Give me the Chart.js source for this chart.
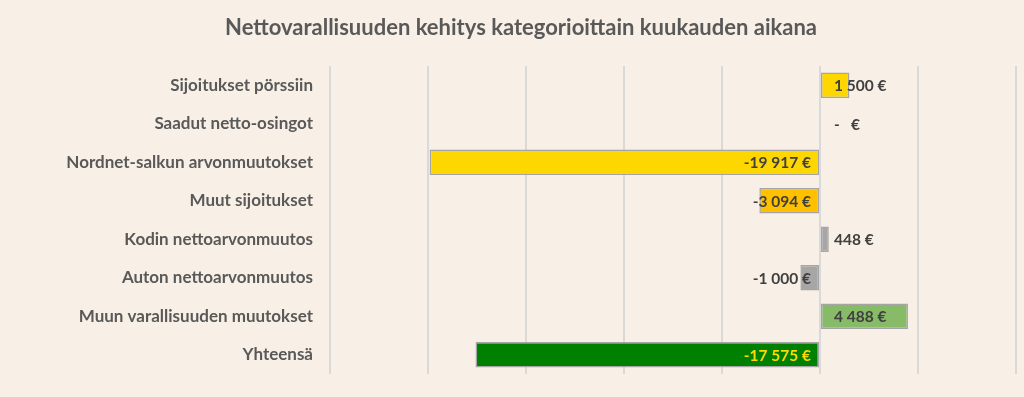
<!DOCTYPE html>
<html>
<head>
<meta charset="utf-8">
<script src="https://cdn.jsdelivr.net/npm/chart.js@4/dist/chart.umd.min.js"></script>
<style>
  html, body { margin: 0; padding: 0; background: #f8f0e6; }
  #wrap { width: 1024px; height: 397px; position: relative; }
</style>
</head>
<body>
<div id="wrap"><canvas id="chart"></canvas></div>
<script>
// --- data -------------------------------------------------
const categories = [
  'Sijoitukset pörssiin',
  'Saadut netto-osingot',
  'Nordnet-salkun arvonmuutokset',
  'Muut sijoitukset',
  'Kodin nettoarvonmuutos',
  'Auton nettoarvonmuutos',
  'Muun varallisuuden muutokset',
  'Yhteensä'
];
const values = [1500, 0, -19917, -3094, 448, -1000, 4488, -17575];
const barColors = ['#ffd700', '#ffd700', '#ffd700', '#ffc000', '#a6a6a6', '#a6a6a6', '#87bb67', '#008000'];
const labelColors = ['#404040', '#404040', '#404040', '#404040', '#404040', '#404040', '#404040', '#ffd700'];
const xMin = -25000;
const xMax = 10000;
const xStep = 5000;

const FONT = 'Lato, "Open Sans", sans-serif';

function fmtEuro(v) {
  if (v === 0) return '-   €';
  const s = Math.abs(v).toString().replace(/\B(?=(\d{3})+(?!\d))/g, ' ');
  return (v < 0 ? '-' : '') + s + ' €';
}

// value labels next to the zero line (Excel "inside base" look)
const valueLabels = {
  id: 'valueLabels',
  afterDatasetsDraw(chart) {
    const ctx = chart.ctx;
    const meta = chart.getDatasetMeta(0);
    const x0 = chart.scales.x.getPixelForValue(0);
    ctx.save();
    ctx.font = 'bold 15.5px ' + FONT;
    ctx.textBaseline = 'middle';
    meta.data.forEach((bar, i) => {
      const v = values[i];
      ctx.fillStyle = labelColors[i];
      if (v < 0) {
        ctx.textAlign = 'right';
        ctx.fillText(fmtEuro(v), x0 - 9, bar.y + 1);
      } else {
        ctx.textAlign = 'left';
        ctx.fillText(fmtEuro(v), x0 + 14, bar.y + 1);
      }
    });
    ctx.restore();
  }
};

// title drawn by hand so it can sit slightly right of centre, like the original
const titleText = {
  id: 'titleText',
  afterDraw(chart) {
    const ctx = chart.ctx;
    ctx.save();
    ctx.font = 'bold 22px ' + FONT;
    ctx.fillStyle = '#595959';
    ctx.textAlign = 'center';
    ctx.textBaseline = 'middle';
    ctx.fillText('Nettovarallisuuden kehitys kategorioittain kuukauden aikana', 521, 28);
    ctx.restore();
  }
};

new Chart(document.getElementById('chart'), {
  type: 'bar',
  data: {
    labels: categories,
    datasets: [{
      data: values,
      backgroundColor: barColors,
      borderColor: '#a5a5a5',
      borderWidth: 1.5,
      borderSkipped: false,
      categoryPercentage: 1,
      barPercentage: 0.66,
    }],
  },
  options: {
    indexAxis: 'y',
    responsive: true,
    maintainAspectRatio: false,
    animation: false,
    layout: { padding: { left: 0, right: 8, top: 66, bottom: 23 } },
    plugins: {
      legend: { display: false },
      tooltip: { enabled: false },
      title: { display: false },
    },
    scales: {
      x: {
        min: xMin,
        max: xMax,
        afterFit: scale => { scale.height = 0; },
        ticks: { display: false, stepSize: xStep },
        grid: { color: '#d9d9d9', lineWidth: 2, drawTicks: false },
        border: { display: false },
      },
      y: {
        // fixed label column; drop the label overflow padding so the plot spans 66..374
        afterFit: scale => {
          scale.width = 330;
          scale.paddingTop = 0;
          scale.paddingBottom = 0;
        },
        ticks: {
          color: '#595959',
          padding: 17,
          font: { family: FONT, size: 17, weight: 'bold' },
        },
        grid: { display: false, drawTicks: false },
        border: { display: false },
      },
    },
  },
  plugins: [valueLabels, titleText],
});
</script>
</body>
</html>
